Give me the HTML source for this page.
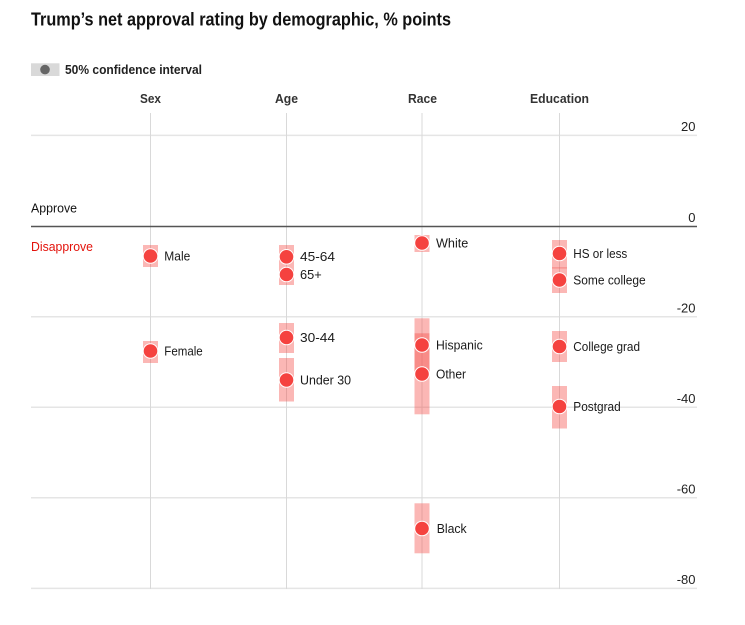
<!DOCTYPE html>
<html>
<head>
<meta charset="utf-8">
<style>
  html, body { margin: 0; padding: 0; background: #fff; }
  svg { display: block; }
  text { font-family: "Liberation Sans", Arial, sans-serif; }
</style>
</head>
<body>
<svg width="745" height="625" viewBox="0 0 745 625" xmlns="http://www.w3.org/2000/svg">
  <rect width="745" height="625" fill="#fff"/>

  <!-- Title -->
  <text x="31" y="25.5" font-size="18.5" font-weight="bold" fill="#111" textLength="420" lengthAdjust="spacingAndGlyphs">Trump’s net approval rating by demographic, % points</text>

  <!-- Legend -->
  <rect x="31" y="63.3" width="28.5" height="12.7" fill="#d9d9d9"/>
  <circle cx="45" cy="69.6" r="4.8" fill="#666"/>
  <text x="65" y="74" font-size="13" font-weight="bold" fill="#222" textLength="137" lengthAdjust="spacingAndGlyphs">50% confidence interval</text>

  <!-- Category headers -->
  <g font-size="13" font-weight="bold" fill="#333" text-anchor="middle">
    <text x="150.5" y="103" textLength="21" lengthAdjust="spacingAndGlyphs">Sex</text>
    <text x="286.5" y="103" textLength="23" lengthAdjust="spacingAndGlyphs">Age</text>
    <text x="422.5" y="103" textLength="29" lengthAdjust="spacingAndGlyphs">Race</text>
    <text x="559.5" y="103" textLength="59" lengthAdjust="spacingAndGlyphs">Education</text>
  </g>

  <!-- Horizontal grid lines -->
  <g stroke="#e5e5e5" stroke-width="1.5">
    <line x1="31" y1="135.4" x2="697" y2="135.4"/>
    <line x1="31" y1="316.7" x2="697" y2="316.7"/>
    <line x1="31" y1="407.2" x2="697" y2="407.2"/>
    <line x1="31" y1="497.8" x2="697" y2="497.8"/>
    <line x1="31" y1="588.4" x2="697" y2="588.4"/>
  </g>

  <!-- Vertical category lines -->
  <g stroke="#d9d9d9" stroke-width="1">
    <line x1="150.5" y1="113" x2="150.5" y2="589"/>
    <line x1="286.5" y1="113" x2="286.5" y2="589"/>
    <line x1="422" y1="113" x2="422" y2="589"/>
    <line x1="559.5" y1="113" x2="559.5" y2="589"/>
  </g>

  <!-- Zero line -->
  <line x1="31" y1="226.5" x2="697" y2="226.5" stroke="#555" stroke-width="1.5"/>

  <!-- Axis labels -->
  <g font-size="13" fill="#222" text-anchor="end">
    <text x="695.5" y="131">20</text>
    <text x="695.5" y="222">0</text>
    <text x="695.5" y="312.3">-20</text>
    <text x="695.5" y="402.8">-40</text>
    <text x="695.5" y="493.4">-60</text>
    <text x="695.5" y="584">-80</text>
  </g>

  <!-- Approve / Disapprove -->
  <text x="31" y="212.5" font-size="13" fill="#111" textLength="46" lengthAdjust="spacingAndGlyphs">Approve</text>
  <text x="31" y="251" font-size="13" fill="#e3120b" textLength="62" lengthAdjust="spacingAndGlyphs">Disapprove</text>

  <!-- Confidence bands -->
  <g fill="#f44a46" fill-opacity="0.4">
    <!-- Sex -->
    <rect x="143" y="245" width="15" height="22"/>
    <rect x="143" y="341" width="15" height="22"/>
    <!-- Age -->
    <rect x="279" y="245" width="15" height="21"/>
    <rect x="279" y="266" width="15" height="19"/>
    <rect x="279" y="323" width="15" height="30"/>
    <rect x="279" y="358" width="15" height="43.5"/>
    <!-- Race -->
    <rect x="414.5" y="235" width="15" height="17"/>
    <rect x="414.5" y="318.3" width="15" height="59"/>
    <rect x="414.5" y="333.3" width="15" height="81"/>
    <rect x="414.5" y="503.3" width="15" height="50"/>
    <!-- Education -->
    <rect x="552" y="240" width="15" height="28.5"/>
    <rect x="552" y="267.3" width="15" height="25.7"/>
    <rect x="552" y="331" width="15" height="31"/>
    <rect x="552" y="386" width="15" height="42.5"/>
  </g>

  <!-- Dots -->
  <g fill="#f5423f" stroke="#fff" stroke-width="1">
    <circle cx="150.5" cy="256" r="7.3"/>
    <circle cx="150.5" cy="351" r="7.3"/>
    <circle cx="286.5" cy="256.8" r="7.3"/>
    <circle cx="286.5" cy="274.5" r="7.3"/>
    <circle cx="286.5" cy="337.5" r="7.3"/>
    <circle cx="286.5" cy="380" r="7.3"/>
    <circle cx="422" cy="243" r="7.3"/>
    <circle cx="422" cy="345" r="7.3"/>
    <circle cx="422" cy="374" r="7.3"/>
    <circle cx="422" cy="528.5" r="7.3"/>
    <circle cx="559.5" cy="253.5" r="7.3"/>
    <circle cx="559.5" cy="280" r="7.3"/>
    <circle cx="559.5" cy="346.5" r="7.3"/>
    <circle cx="559.5" cy="406.5" r="7.3"/>
  </g>

  <!-- Point labels -->
  <g font-size="13" fill="#1a1a1a">
    <text x="164.3" y="260.5" textLength="26" lengthAdjust="spacingAndGlyphs">Male</text>
    <text x="164.3" y="355.3" textLength="38.4" lengthAdjust="spacingAndGlyphs">Female</text>
    <text x="300" y="261.2" textLength="35" lengthAdjust="spacingAndGlyphs">45-64</text>
    <text x="300" y="278.8" textLength="21.7" lengthAdjust="spacingAndGlyphs">65+</text>
    <text x="300" y="341.8" textLength="35" lengthAdjust="spacingAndGlyphs">30-44</text>
    <text x="300" y="384.3" textLength="51" lengthAdjust="spacingAndGlyphs">Under 30</text>
    <text x="436" y="247.3" textLength="32.3" lengthAdjust="spacingAndGlyphs">White</text>
    <text x="436" y="349.3" textLength="46.7" lengthAdjust="spacingAndGlyphs">Hispanic</text>
    <text x="436" y="378.3" textLength="30" lengthAdjust="spacingAndGlyphs">Other</text>
    <text x="436.7" y="532.8" textLength="30" lengthAdjust="spacingAndGlyphs">Black</text>
    <text x="573.3" y="257.8" textLength="54" lengthAdjust="spacingAndGlyphs">HS or less</text>
    <text x="573.3" y="284.3" textLength="72.4" lengthAdjust="spacingAndGlyphs">Some college</text>
    <text x="573.3" y="350.8" textLength="66.7" lengthAdjust="spacingAndGlyphs">College grad</text>
    <text x="573.3" y="410.8" textLength="47.4" lengthAdjust="spacingAndGlyphs">Postgrad</text>
  </g>
</svg>
</body>
</html>
